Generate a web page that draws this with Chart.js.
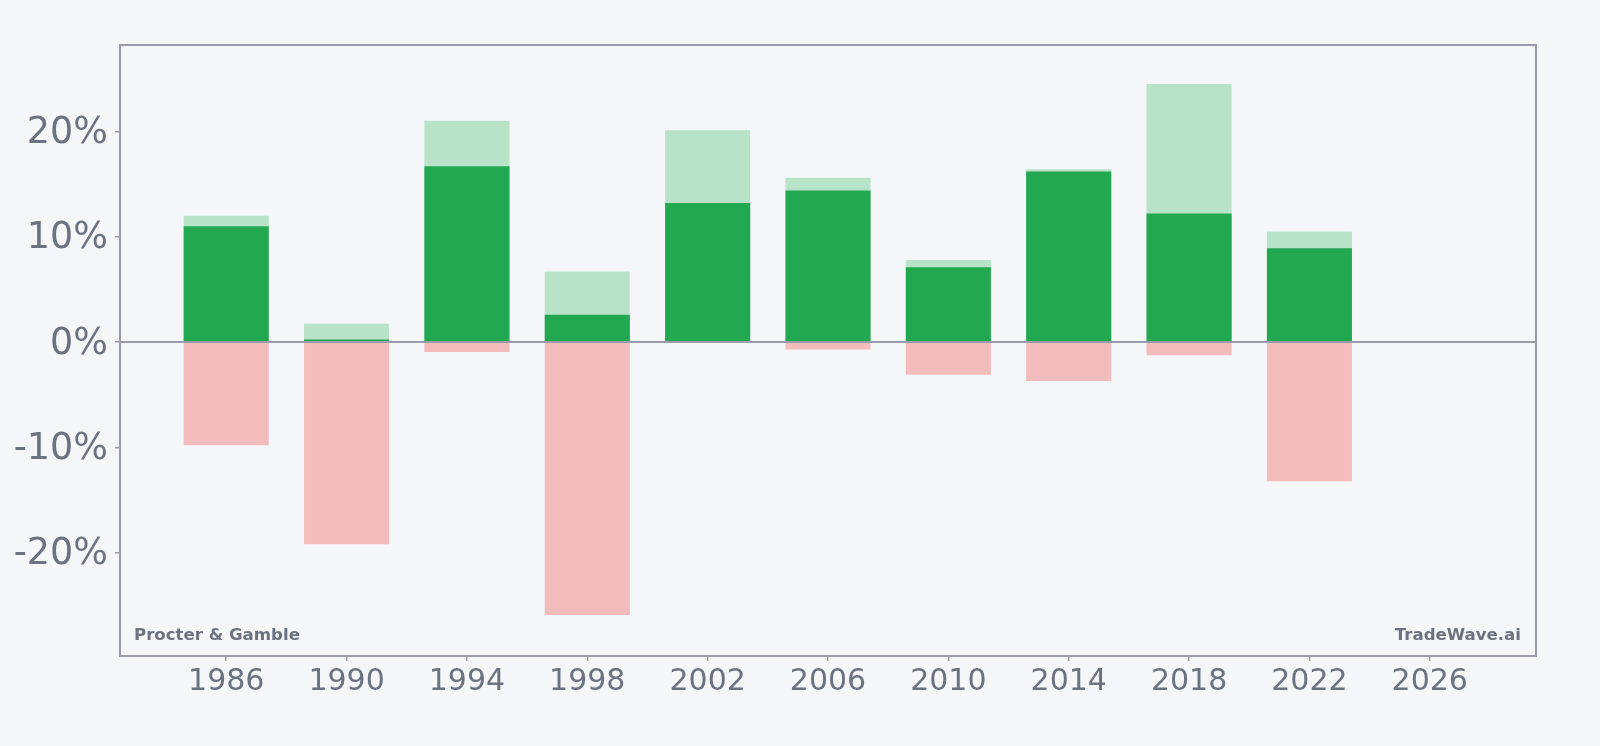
<!DOCTYPE html>
<html>
  <head>
    <meta charset="UTF-8">
    <title>Procter & Gamble</title>
    <style>
      html, body { margin: 0; padding: 0; background: #f4f6f8; }
      #wrap { width: 1600px; height: 746px; }
    </style>
  </head>
  <body>
    <div id="wrap"><canvas id="barChart" width="1600" height="746"></canvas></div>
  </body>
  <script src="https://cdn.jsdelivr.net/npm/chart.js@4/dist/chart.umd.min.js"></script>
  <script>
    // values (percent)
    const years = [1986, 1990, 1994, 1998, 2002, 2006, 2010, 2014, 2018, 2022];
    const highs = [12.0, 1.75, 21.0, 6.7, 20.1, 15.6, 7.8, 16.4, 24.5, 10.5];
    const closes = [11.0, 0.25, 16.7, 2.6, 13.2, 14.4, 7.1, 16.2, 12.2, 8.9];
    const lows = [-9.8, -19.2, -0.95, -25.9, 0, -0.7, -3.1, -3.7, -1.25, -13.2];
    const xTicks = [1986, 1990, 1994, 1998, 2002, 2006, 2010, 2014, 2018, 2022, 2026];
    const yTicks = [-20, -10, 0, 10, 20];

    const textColor = '#6b7280';
    const lineColor = '#9a9ca8';

    const points = (vals) => years.map((y, i) => ({x: y, y: vals[i]}));

    const framePlugin = {
      id: 'frame',
      beforeDraw(chart) {
        const c = chart.ctx;
        c.save();
        c.fillStyle = '#f4f6f8';
        c.fillRect(0, 0, chart.width, chart.height);
        c.restore();
      },
      afterDatasetsDraw(chart) {
        const c = chart.ctx;
        const a = chart.chartArea;
        const y0 = chart.scales.y.getPixelForValue(0);
        c.save();
        c.strokeStyle = lineColor;
        c.lineWidth = 2;
        c.beginPath();
        c.moveTo(a.left, y0);
        c.lineTo(a.right, y0);
        c.stroke();
        c.strokeRect(a.left, a.top, a.right - a.left, a.bottom - a.top);
        c.fillStyle = textColor;
        c.font = 'bold 16.6px "DejaVu Sans"';
        c.textBaseline = 'alphabetic';
        c.textAlign = 'left';
        c.fillText('Procter & Gamble', a.left + 14, a.bottom - 16);
        c.textAlign = 'right';
        c.fillText('TradeWave.ai', a.right - 15, a.bottom - 16);
        c.restore();
      }
    };

    const ctx = document.getElementById('barChart').getContext('2d');
    const chart = new Chart(ctx, {
      type: 'bar',
      data: {
        datasets: [
          {data: points(closes), backgroundColor: '#22a851', order: 0},
          {data: points(highs), backgroundColor: '#b9e3c9', order: 1},
          {data: points(lows), backgroundColor: '#f2bcbd', order: 2}
        ]
      },
      options: {
        responsive: false,
        animation: false,
        datasets: {
          bar: {grouped: false, barPercentage: 1, categoryPercentage: 0.707, borderWidth: 0}
        },
        layout: {padding: {top: 45, right: 64, left: 0, bottom: 0}},
        plugins: {legend: {display: false}, tooltip: {enabled: false}},
        scales: {
          x: {
            type: 'linear',
            offset: false,
            min: 1982.47,
            max: 2029.53,
            afterBuildTicks: (s) => { s.ticks = xTicks.map(v => ({value: v})); },
            afterFit: (s) => { s.height = 90; },
            border: {display: false},
            grid: {offset: false, drawOnChartArea: false, tickLength: 5, tickColor: lineColor, lineWidth: 1.5},
            ticks: {
              color: textColor,
              padding: 3,
              maxRotation: 0,
              font: {family: 'DejaVu Sans', size: 30},
              callback: (v) => String(v)
            }
          },
          y: {
            min: -29.8,
            max: 28.2,
            afterBuildTicks: (s) => { s.ticks = yTicks.map(v => ({value: v})); },
            afterFit: (s) => { s.width = 120; },
            border: {display: false},
            grid: {drawOnChartArea: false, tickLength: 5, tickColor: lineColor, lineWidth: 1.5},
            ticks: {
              color: textColor,
              padding: 7,
              labelOffset: 2,
              font: {family: 'DejaVu Sans', size: 36.5},
              callback: (v) => v + '%'
            }
          }
        }
      },
      plugins: [framePlugin]
    });
  </script>
</html>
